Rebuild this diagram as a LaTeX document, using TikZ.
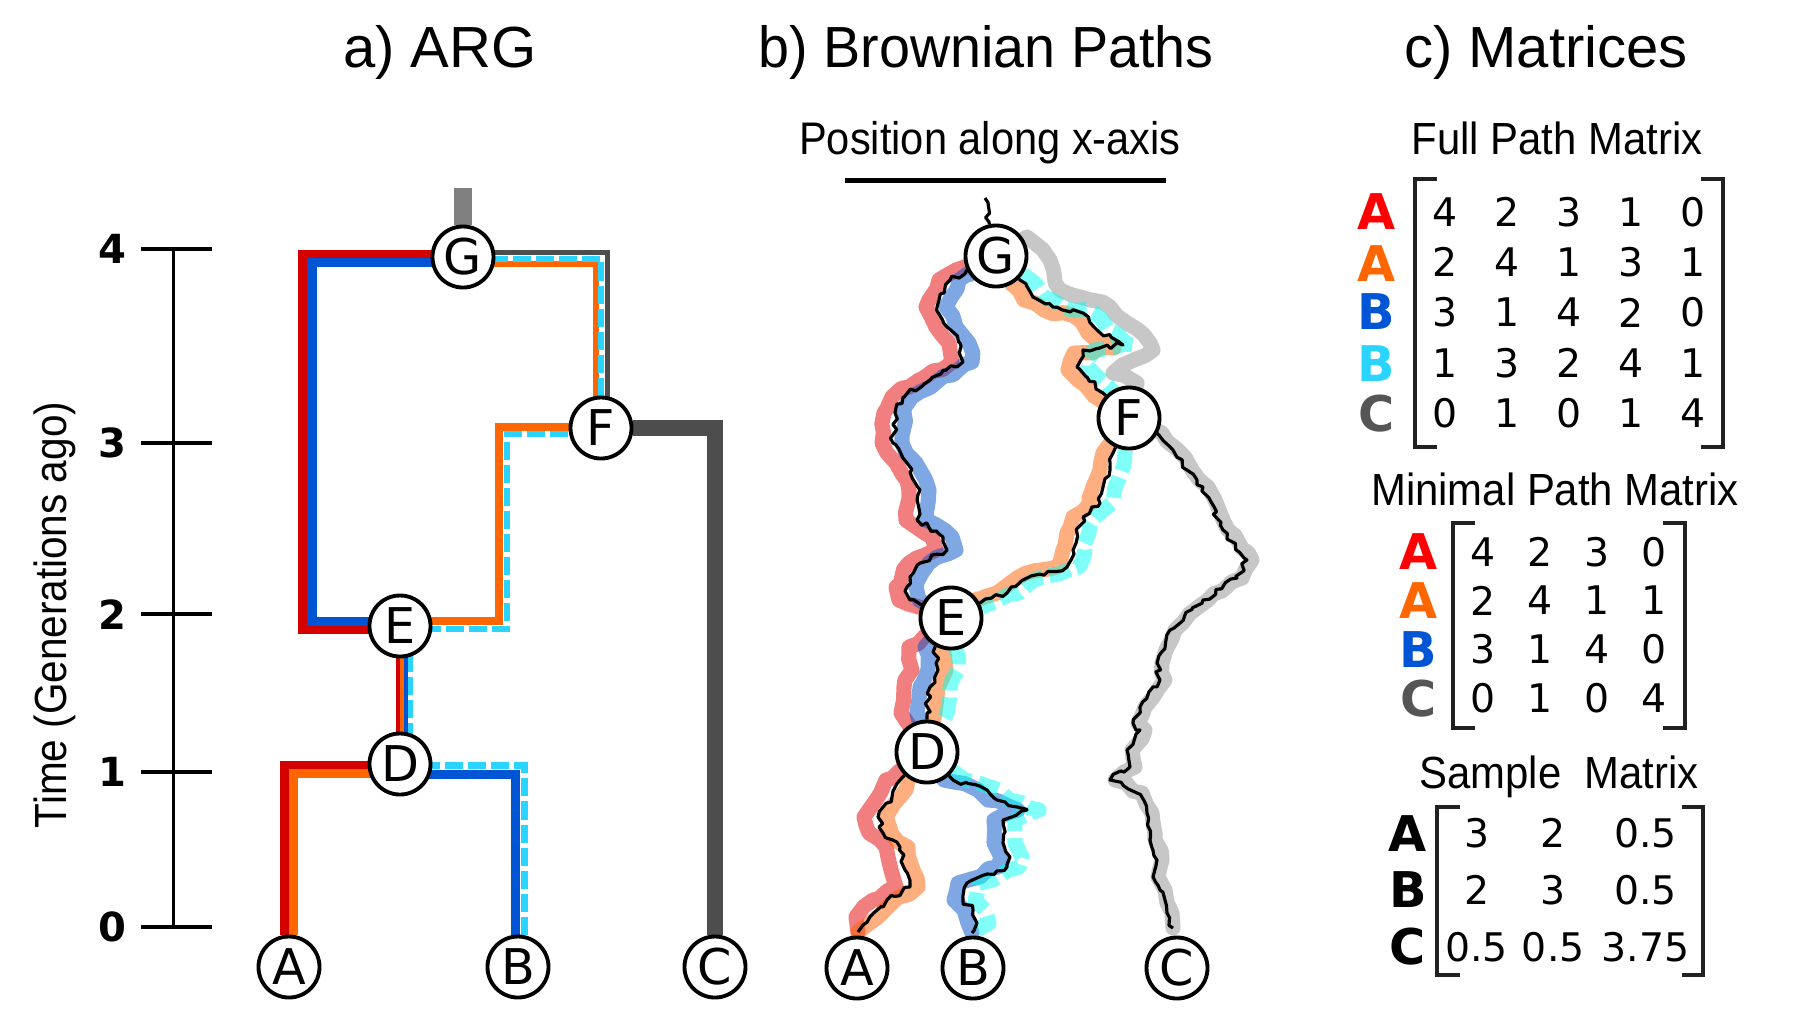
\documentclass[tikz,border=0pt]{standalone}
\usepackage{fontspec}
\usepackage{graphicx}
\setmainfont{DejaVu Sans}
\newfontfamily\helv{Liberation Sans}
\usetikzlibrary{backgrounds,calc,decorations.pathmorphing}

\definecolor{argred}{HTML}{D40000}
\definecolor{argorange}{HTML}{FF6600}
\definecolor{argblue}{HTML}{0055D4}
\definecolor{argcyan}{HTML}{2AD4FF}
\definecolor{argdark}{HTML}{4D4D4D}
\definecolor{argstub}{HTML}{808080}
\definecolor{labred}{HTML}{FF0000}
\definecolor{labgray}{HTML}{555555}
\definecolor{bandred}{HTML}{E60000}
\definecolor{bandblue}{HTML}{0050C8}
\definecolor{bandorange}{HTML}{FF6000}
\definecolor{bandcyan}{HTML}{00FFF0}
\definecolor{bandgray}{HTML}{909090}

% tratti dei cammini browniani
\tikzset{
  pGE/.style={insert path={-- (967,270) -- (950,280) -- (937,307) -- (947,327) -- (960,343) -- (963,362) -- (930,380) -- (903,397) -- (895,413) -- (893,443) -- (907,463) -- (920,490) -- (917,520) -- (943,537) -- (947,550) -- (920,563) -- (907,587) -- (910,600)}},
  pGF/.style={insert path={-- (1020,280) -- (1033,297) -- (1053,307) -- (1083,313) -- (1097,330) -- (1123,345) -- (1083,350) -- (1077,367) -- (1087,377) -- (1103,393)}},
  pGFgray/.style={insert path={-- (1027,237) -- (1050,260) -- (1060,290) -- (1080,297) -- (1110,307) -- (1127,323) -- (1150,343) -- (1153,350) -- (1120,367) -- (1113,373) -- (1137,383)}},
  pFE/.style={insert path={-- (1113,453) -- (1110,470) -- (1103,487) -- (1100,503) -- (1083,517) -- (1077,533) -- (1073,550) -- (1067,567) -- (1027,578) -- (1007,593) -- (983,602)}},
  pFC/.style={insert path={-- (1157,433) -- (1173,450) -- (1187,470) -- (1203,487) -- (1210,500) -- (1223,530) -- (1247,560) -- (1237,578) -- (1203,600) -- (1170,630) -- (1157,663) -- (1160,680) -- (1140,707) -- (1133,723) -- (1140,730) -- (1127,750) -- (1130,767) -- (1110,780) -- (1137,793) -- (1147,813) -- (1150,840) -- (1157,860) -- (1153,877) -- (1160,890) -- (1167,913)}},
  pED/.style={insert path={-- (935,647) -- (938,670) -- (930,687) -- (927,713)}},
  pDA/.style={insert path={-- (900,780) -- (892,797) -- (878,817) -- (883,833) -- (900,847) -- (905,870) -- (910,887) -- (887,900) -- (870,917)}},
  pDB/.style={insert path={-- (953,780) -- (987,790) -- (997,800) -- (1027,810) -- (1003,820) -- (1003,843) -- (1010,857) -- (1007,867) -- (967,883) -- (963,900) -- (973,910) -- (977,923)}}
}

\begin{document}
\begin{tikzpicture}[x=0.01cm,y=-0.01cm,
    vtx/.style={circle,draw=black,fill=white,line width=1.1pt,minimum size=0.61cm,inner sep=0pt,font=\fontsize{14}{15}\selectfont},
    ttl/.style={anchor=base,inner sep=0pt,font=\helv\fontsize{16.5}{18}\selectfont},
    subttl/.style={anchor=base,inner sep=0pt,font=\helv\fontsize{12.8}{14}\selectfont},
    tlab/.style={inner sep=0pt,font=\bfseries\fontsize{11.4}{12}\selectfont},
    cell/.style={inner sep=0pt,font=\fontsize{11.2}{12}\selectfont},
    lab/.style={inner sep=0pt,font=\bfseries\fontsize{14}{15}\selectfont},
    brk/.style={line width=1.15pt,black!87},
    asse/.style={line width=1.1pt},
    arg/.style={line width=0.09cm},
    argthin/.style={line width=0.04cm},
    dsh/.style={dash pattern=on 0.18cm off 0.05cm},
    band/.style={line width=4.3pt,opacity=0.5,line join=round,line cap=round,decorate,decoration={random steps,segment length=3pt,amplitude=0.7pt}},
    bdash/.style={line cap=butt,dash pattern=on 6pt off 2pt},
    bline/.style={line width=0.9pt,line join=round,decorate,decoration={random steps,segment length=1.6pt,amplitude=0.85pt}}]
\pgfmathsetseed{12}
\useasboundingbox (0,0) rectangle (1814,1029);

% titoli
\node[ttl] (ta) at (440,67) {a) ARG};
\node[ttl] (tb) at (986,67) {\scalebox{0.96}[1]{b) Brownian Paths}};
\node[ttl] (tc) at (1546,67) {c) Matrices};

% asse dei tempi
\draw[asse] (173.5,248.7) -- (173.5,926.7);
\foreach \y/\t in {248.7/4,443.1/3,614.3/2,771.6/1,926.7/0}{
  \draw[asse] (141,\y) -- (212,\y);
  \node[tlab] (tk\t) at (112,\y) {\t};
}
\node[subttl,anchor=center,rotate=90] (ylab) at (55,615) {\scalebox{0.9}[1]{Time (Generations ago)}};

% ARG
\node[vtx] (aG) at (463,257) {G};
\node[vtx] (aF) at (601,428) {F};
\node[vtx] (aE) at (400,626) {E};
\node[vtx] (aD) at (400,764) {D};
\node[vtx] (aA) at (289,967) {A};
\node[vtx] (aB) at (518,967) {B};
\node[vtx] (aC) at (715,967) {C};
\coordinate (aTop) at (463,188);

\begin{scope}[on background layer]
  \draw[line width=0.18cm,argstub] (aG) -- (aTop);
  \draw[line width=0.16cm,argdark] (aF) -| (aC);
  \draw[line width=0.05cm,argdark] ($(aF)+(6,0)$) |- ($(aG)+(0,-4.5)$);
  % A
  \draw[arg,argred] ($(aA.north)+(-4.3,0)$) |- ($(aD)+(0,1)$);
  \draw[arg,argorange] ($(aA.north)+(4.8,0)$) |- ($(aD)+(0,9)$);
  % B
  \draw[arg,argblue] ($(aB.north)+(-2.5,0)$) |- ($(aD)+(0,10)$);
  \draw[arg,argcyan,dsh,line width=0.07cm] ($(aB.north)+(6,0)$) |- ($(aD)+(0,1)$);
  % D - E
  \draw[argthin,argred] ($(aD)+(-2,0)$) -- ($(aE)+(-2,0)$);
  \draw[argthin,argorange] ($(aD)+(2,0)$) -- ($(aE)+(2,0)$);
  \draw[argthin,argblue] ($(aD)+(6,0)$) -- ($(aE)+(6,0)$);
  \draw[argthin,argcyan,dsh,line width=0.05cm] ($(aD)+(10.5,0)$) -- ($(aE)+(10.5,0)$);
  % E - G, E - F
  \draw[arg,argred] ($(aE)+(0,3)$) -| ($(aG)+(-160,-3)$) -- ($(aG)+(0,-3)$);
  \draw[arg,argblue] ($(aE)+(0,-5)$) -| ($(aG)+(-151,5.5)$) -- ($(aG)+(0,5.5)$);
  \draw[arg,argorange,line width=0.08cm] ($(aE)+(0,-5.5)$) -| ($(aF)+(-102,-1.5)$) -- ($(aF)+(0,-1.5)$);
  \draw[arg,argcyan,dsh,line width=0.06cm] ($(aE)+(0,3)$) -| ($(aF)+(-94,6)$) -- ($(aF)+(0,6)$);
  % F - G
  \draw[argorange,line width=0.06cm] ($(aF)+(-5.5,0)$) |- ($(aG)+(0,7)$);
  \draw[argcyan,dsh,line width=0.06cm] (aF) |- ($(aG)+(0,1.5)$);
\end{scope}

% cammini browniani
\node[subttl] (pos) at (990,154) {\fontsize{13}{14}\selectfont\scalebox{0.91}[1]{Position along x-axis}};
\coordinate (pxL) at (845,180.5);
\coordinate (pxR) at (1166,180.5);
\draw[line width=1.3pt] (pxL) -- (pxR);

\node[vtx] (bG) at (996,256) {G};
\node[vtx] (bF) at (1129,418) {F};
\node[vtx] (bE) at (951,618) {E};
\node[vtx] (bD) at (927,752) {D};
\node[vtx] (bA) at (857,968) {A};
\node[vtx] (bB) at (973,968) {B};
\node[vtx] (bC) at (1177,968) {C};
\coordinate (bTop) at (985,198);
\coordinate (bAend) at (858,932);
\coordinate (bBend) at (972,933);
\coordinate (bCend) at (1173,928);

\begin{scope}[on background layer]
  % bande colorate
  \draw[band,bandgray] (bG) [pGFgray] -- (bF);
  \begin{scope}[xshift=0.05cm]
    \draw[band,bandgray] (bF) [pFC] -- (bCend);
  \end{scope}
  \begin{scope}[xshift=-0.11cm]
    \draw[band,bandred] (bG) [pGE] -- (bE);
  \end{scope}
  \begin{scope}[xshift=-0.26cm]
    \draw[band,bandred] (bE) [pED] -- (bD);
  \end{scope}
  \begin{scope}[xshift=-0.14cm]
    \draw[band,bandred] (bD) [pDA] -- (bAend);
  \end{scope}
  \begin{scope}[xshift=0.09cm]
    \draw[band,bandblue] (bG) [pGE] -- (bE);
  \end{scope}
  \begin{scope}[xshift=-0.1cm]
    \draw[band,bandblue] (bE) [pED] -- (bD);
  \end{scope}
  \begin{scope}[xshift=-0.09cm]
    \draw[band,bandblue] (bD) [pDB] -- (bBend);
  \end{scope}
  \begin{scope}[xshift=-0.09cm,yshift=-0.03cm]
    \draw[band,bandorange] (bG) [pGF] -- (bF);
  \end{scope}
  \begin{scope}[xshift=-0.1cm]
    \draw[band,bandorange] (bF) [pFE] -- (bE);
  \end{scope}
  \begin{scope}[xshift=0.08cm]
    \draw[band,bandorange] (bE) [pED] -- (bD);
    \draw[band,bandorange] (bD) [pDA] -- (bAend);
  \end{scope}
  \begin{scope}[xshift=0.11cm]
    \draw[band,bdash,bandcyan] (bG) [pGF] -- (bF);
  \end{scope}
  \begin{scope}[xshift=0.12cm]
    \draw[band,bdash,bandcyan] (bF) [pFE] -- (bE);
    \draw[band,bdash,bandcyan] (bD) [pDB] -- (bBend);
  \end{scope}
  \begin{scope}[xshift=0.2cm]
    \draw[band,bdash,bandcyan] (bE) [pED] -- (bD);
  \end{scope}
  % linea nera
  \draw[bline] (bG) -- (989,222) -- (bTop);
  \draw[bline] (bG) [pGE] -- (bE);
  \draw[bline] (bG) [pGF] -- (bF);
  \draw[bline] (bF) [pFE] -- (bE);
  \draw[bline] (bF) [pFC] -- (bCend);
  \draw[bline] (bE) [pED] -- (bD);
  \draw[bline] (bD) [pDA] -- (bAend);
  \draw[bline] (bD) [pDB] -- (bBend);
\end{scope}

% matrici
\node[subttl] (tfull) at (1557,154) {\scalebox{0.93}[1]{Full Path Matrix}};
\foreach \t/\c/\y [count=\i] in {A/labred/211.7,A/argorange/263.5,B/argblue/312,B/argcyan/363.5,C/labgray/413.3}
  \node[lab,text=\c] (fl\i) at (1376.7,\y) {\t};
\foreach \r [count=\i] in {{4,2,3,1,0},{2,4,1,3,1},{3,1,4,2,0},{1,3,2,4,1},{0,1,0,1,4}}
  \foreach \v [count=\j] in \r
    \node[cell] (fp\i\j) at ({1445+61.9*(\j-1)},{211.7+50.4*(\i-1)}) {\v};
\draw[brk] (1437,179.3) -- (1415,179.3) -- (1415,446.7) -- (1437,446.7);
\draw[brk] (1701,179.3) -- (1723,179.3) -- (1723,446.7) -- (1701,446.7);

\node[subttl] (tmin) at (1555,505) {\scalebox{0.93}[1]{Minimal Path Matrix}};
\foreach \t/\c/\y [count=\i] in {A/labred/551.7,A/argorange/600.6,B/argblue/649.5,C/labgray/698.4}
  \node[lab,text=\c] (ml\i) at (1418.3,\y) {\t};
\foreach \r [count=\i] in {{4,2,3,0},{2,4,1,1},{3,1,4,0},{0,1,0,4}}
  \foreach \v [count=\j] in \r
    \node[cell] (mp\i\j) at ({1483.3+57*(\j-1)},{551.7+48.9*(\i-1)}) {\v};
\draw[brk] (1475,522.7) -- (1453.3,522.7) -- (1453.3,727.7) -- (1475,727.7);
\draw[brk] (1663.3,522.7) -- (1685,522.7) -- (1685,727.7) -- (1663.3,727.7);

\node[subttl] (tsam) at (1559,788) {\scalebox{0.93}[1]{Sample\ \ Matrix}};
\foreach \t/\y [count=\i] in {A/833.3,B/890,C/946.7}
  \node[lab] (sl\i) at (1408,\y) {\t};
\foreach \r [count=\i] in {{3,2,0.5},{2,3,0.5},{0.5,0.5,3.75}}
  \foreach \v [count=\j] in \r {
    \pgfmathsetmacro\cx{{1476.7,1553.3,1645.7}[\j-1]}
    \node[cell] (sm\i\j) at (\cx,{833.3+56.7*(\i-1)}) {\v};
  }
\draw[brk] (1460,806.7) -- (1437.3,806.7) -- (1437.3,975) -- (1460,975);
\draw[brk] (1681.7,806.7) -- (1703.3,806.7) -- (1703.3,975) -- (1681.7,975);
\end{tikzpicture}
\end{document}
